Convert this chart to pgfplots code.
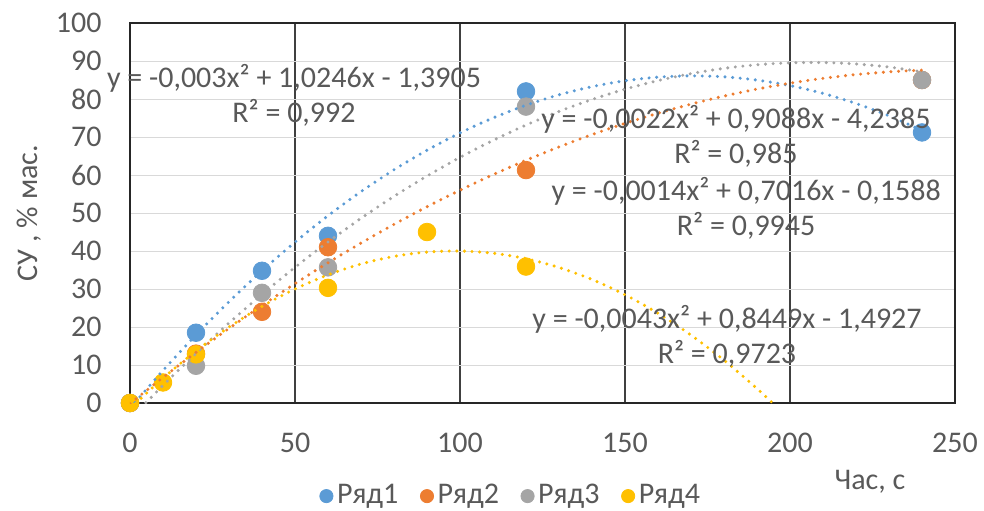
\documentclass[border=0pt]{standalone}
\usepackage{fontspec}
\setmainfont{Carlito}
\usepackage{pgfplots}
\pgfplotsset{compat=1.18}
\definecolor{c1}{HTML}{5B9BD5}
\definecolor{c2}{HTML}{ED7D31}
\definecolor{c3}{HTML}{A5A5A5}
\definecolor{c4}{HTML}{FFC000}
\definecolor{txt}{HTML}{595959}
\begin{document}
\fontsize{15pt}{17.5pt}\selectfont
\begin{tikzpicture}
\begin{axis}[
  scale only axis, width=412.5pt, height=190pt,
  xmin=0, xmax=250, ymin=0, ymax=100,
  xtick={0,50,...,250}, ytick={0,10,...,100},
  major tick length=0pt,
  /pgf/number format/assume math mode=true,
  every tick label/.append style={text=txt, font=\fontsize{15pt}{17pt}\selectfont},
  xticklabel style={yshift=-10pt},
  yticklabel style={xshift=-9pt},
  axis line style={draw=black!85, line width=1pt},
  xmajorgrids, ymajorgrids,
  x grid style={draw=black!75, line width=0.6pt},
  y grid style={draw=black!15, line width=0.5pt},
  clip mode=individual,
  xlabel={Час, с},
  xlabel style={at={(axis description cs:0.897,0)}, anchor=center, yshift=-39.5pt, text=txt, font=\fontsize{15pt}{17pt}\selectfont},
  ylabel={СУ , \% мас.},
  ylabel style={at={(axis description cs:-0.122,0.5)}, anchor=center, text=txt, font=\fontsize{15pt}{17pt}\selectfont},
  legend columns=4,
  legend style={draw=none, at={(axis description cs:0.463,-0.245)}, anchor=center, text=txt, font=\fontsize{15pt}{17pt}\selectfont,
    inner ysep=1pt,
    /tikz/every even column/.append style={column sep=9pt}},
  legend image post style={mark size=3.3pt},
  legend cell align=left,
  trend/.style={forget plot, smooth, line width=1.7pt, line cap=round, dash pattern=on 0pt off 3.8pt},
  pts/.style={only marks, mark=*, mark size=4.4pt},
]
\addplot[pts, color=c1] coordinates {(0,0) (20,18.5) (40,34.8) (60,44) (120,82) (240,71.2)};
\addlegendentry{Ряд1}
\addplot[pts, color=c2] coordinates {(0,0) (20,13) (40,24) (60,41) (120,61.3) (240,85)};
\addlegendentry{Ряд2}
\addplot[pts, color=c3] coordinates {(0,0) (20,9.8) (40,29) (60,35.7) (120,78) (240,85)};
\addlegendentry{Ряд3}
\addplot[pts, color=c4] coordinates {(0,0) (10,5.4) (20,12.8) (60,30.3) (90,45) (120,35.9)};
\addlegendentry{Ряд4}

\addplot[trend, color=c1] coordinates {(0,-1.39) (10,8.56) (20,17.90) (30,26.65) (40,34.79) (50,42.34) (60,49.29) (70,55.63) (80,61.38) (90,66.52) (100,71.07) (110,75.02) (120,78.36) (130,81.11) (140,83.25) (150,84.80) (160,85.75) (170,86.09) (180,85.84) (190,84.98) (200,83.53) (210,81.48) (220,78.82) (230,75.57) (240,71.71)};
\addplot[trend, color=c2] coordinates {(0,-0.16) (10,6.72) (20,13.31) (30,19.63) (40,25.67) (50,31.42) (60,36.90) (70,42.09) (80,47.01) (90,51.65) (100,56.00) (110,60.08) (120,63.87) (130,67.39) (140,70.63) (150,73.58) (160,76.26) (170,78.65) (180,80.77) (190,82.61) (200,84.16) (210,85.44) (220,86.43) (230,87.15) (240,87.59)};
\addplot[trend, color=c3] coordinates {(0,-4.24) (10,4.63) (20,13.06) (30,21.05) (40,28.59) (50,35.70) (60,42.37) (70,48.60) (80,54.39) (90,59.73) (100,64.64) (110,69.11) (120,73.14) (130,76.73) (140,79.87) (150,82.58) (160,84.85) (170,86.68) (180,88.07) (190,89.01) (200,89.52) (210,89.59) (220,89.22) (230,88.41) (240,87.15)};
\addplot[trend, color=c4] coordinates {(0,-1.49) (10,6.53) (20,13.69) (30,19.98) (40,25.42) (50,30.00) (60,33.72) (70,36.58) (80,38.58) (90,39.72) (100,40.00) (110,39.42) (120,37.98) (130,35.67) (140,32.51) (150,28.49) (160,23.61) (170,17.87) (180,11.27) (190,3.81) (194.7,0)};

\node[text=txt, align=center, font=\fontsize{15pt}{17.5pt}\selectfont] at (axis cs:49.7,81) {y = -0,003x² + 1,0246x - 1,3905\\R² = 0,992};
\node[text=txt, align=center, font=\fontsize{15pt}{17.5pt}\selectfont] at (axis cs:183.6,70.3) {y = -0,0022x² + 0,9088x - 4,2385\\R² = 0,985};
\node[text=txt, align=center, font=\fontsize{15pt}{17.5pt}\selectfont] at (axis cs:186.7,51.3) {y = -0,0014x² + 0,7016x - 0,1588\\R² = 0,9945};
\node[text=txt, align=center, font=\fontsize{15pt}{17.5pt}\selectfont] at (axis cs:180.9,17.6) {y = -0,0043x² + 0,8449x - 1,4927\\R² = 0,9723};
\end{axis}
\pgfresetboundingbox
\useasboundingbox (-65pt,-53.5pt) rectangle (427pt,201.5pt);
\end{tikzpicture}
\end{document}
